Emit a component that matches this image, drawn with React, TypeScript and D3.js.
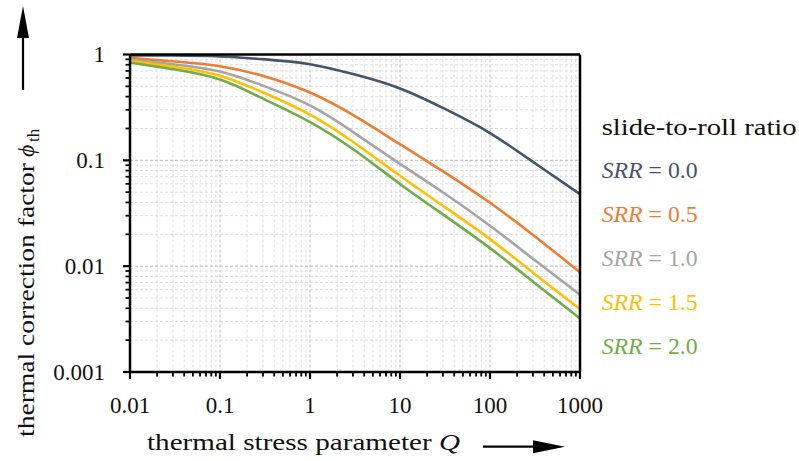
import React from "react";
import * as d3 from "d3";

// thermal stress parameter Q (x positions of read points)
const Q = [0.01, 0.0316, 0.1, 0.316, 1, 3.16, 10, 31.6, 100, 316, 1000];

// thermal correction factor phi_th
const srr00 = [0.982, 0.977, 0.957, 0.9, 0.81, 0.646, 0.478, 0.306, 0.181, 0.0938, 0.048];
const srr05 = [0.927, 0.859, 0.775, 0.62, 0.437, 0.262, 0.142, 0.0767, 0.0397, 0.0191, 0.00875];
const srr10 = [0.893, 0.805, 0.69, 0.5, 0.33, 0.18, 0.0925, 0.0483, 0.0241, 0.01135, 0.00538];
const srr15 = [0.869, 0.762, 0.63, 0.43, 0.27, 0.145, 0.0715, 0.0361, 0.018, 0.0084, 0.00394];
const srr20 = [0.838, 0.721, 0.58, 0.375, 0.23, 0.124, 0.0598, 0.0299, 0.0148, 0.0069, 0.0032];

const seriesLabels = ["0.0", "0.5", "1.0", "1.5", "2.0"];
const seriesColors = ["#44546A", "#ED7D31", "#A5A5A5", "#FFC000", "#70AD47"];
const seriesValues = [srr00, srr05, srr10, srr15, srr20];

const xTicks = [0.01, 0.1, 1, 10, 100, 1000];
const xTickLabels = ["0.01", "0.1", "1", "10", "100", "1000"];
const yTicks = [0.001, 0.01, 0.1, 1];
const yTickLabels = ["0.001", "0.01", "0.1", "1"];

const FONT = "'Liberation Serif', 'DejaVu Serif', serif";

export default function App() {
  const W = 799;
  const H = 461;
  const x = d3.scaleLog().domain([0.01, 1000]).range([130, 580]);
  const y = d3.scaleLog().domain([0.001, 1]).range([372, 54.5]);

  const minorX: number[] = [];
  for (let e = -2; e < 3; e++) for (let k = 1; k < 10; k++) minorX.push(k * Math.pow(10, e));
  minorX.push(1000);
  const minorY: number[] = [];
  for (let e = -3; e < 0; e++) for (let k = 1; k < 10; k++) minorY.push(k * Math.pow(10, e));
  minorY.push(1);

  const isMajor = (v: number) => Math.abs(Math.log10(v) - Math.round(Math.log10(v))) < 1e-6;

  const line = d3
    .line<number>()
    .x((_, i) => x(Q[i]))
    .y((d) => y(d))
    .curve(d3.curveNatural);

  const [x0, x1] = x.range();
  const [y0, y1] = y.range();

  return (
    <svg
      width={W}
      height={H}
      style={{ position: "absolute", left: 0, top: 0, background: "#fff" }}
      fontFamily={FONT}
    >
      <rect width={W} height={H} fill="#fff" />
      {/* grid */}
      <g>
        {minorX.map((v, i) => (
          <line
            key={"gx" + i}
            x1={x(v)}
            x2={x(v)}
            y1={y1}
            y2={y0}
            stroke={isMajor(v) ? "#bdbdbd" : "#dedede"}
            strokeWidth={1}
            strokeDasharray="3,2"
          />
        ))}
        {minorY.map((v, i) => (
          <line
            key={"gy" + i}
            x1={x0}
            x2={x1}
            y1={y(v)}
            y2={y(v)}
            stroke={isMajor(v) ? "#bdbdbd" : "#dedede"}
            strokeWidth={1}
            strokeDasharray="3,2"
          />
        ))}
      </g>
      {/* curves */}
      <g fill="none">
        {seriesValues.map((vals, i) => (
          <path key={"s" + i} d={line(vals) || ""} stroke={seriesColors[i]} strokeWidth={2.6} />
        ))}
      </g>
      {/* frame */}
      <g stroke="#000" fill="none">
        <line x1={x0} x2={x1} y1={y1} y2={y1} strokeWidth={2.5} />
        <line x1={x1} x2={x1} y1={y1} y2={y0} strokeWidth={2.5} />
        <line x1={x0} x2={x1} y1={y0} y2={y0} strokeWidth={2.5} />
        <line x1={x0} x2={x0} y1={y1} y2={y0} strokeWidth={2.5} />
        {minorX.map((v, i) => (
          <line
            key={"tx" + i}
            x1={x(v)}
            x2={x(v)}
            y1={y0}
            y2={y0 + (isMajor(v) ? 7 : 4.5)}
            strokeWidth={isMajor(v) ? 2.2 : 1.8}
          />
        ))}
        {minorY.map((v, i) => (
          <line
            key={"ty" + i}
            x1={x0}
            x2={x0 - (isMajor(v) ? 7 : 4.5)}
            y1={y(v)}
            y2={y(v)}
            strokeWidth={isMajor(v) ? 2.2 : 1.8}
          />
        ))}
      </g>
      {/* tick labels */}
      <g fontSize={23} fill="#111">
        {xTicks.map((v, i) => (
          <text key={"xl" + i} x={x(v)} y={413} textAnchor="middle">
            {xTickLabels[i]}
          </text>
        ))}
        {yTicks.map((v, i) => (
          <text key={"yl" + i} x={105} y={y(v)} dy="0.33em" textAnchor="end">
            {yTickLabels[i]}
          </text>
        ))}
      </g>
      {/* axis titles */}
      <text x={147} y={450} fontSize={23} fill="#111" textLength={313} lengthAdjust="spacingAndGlyphs">
        thermal stress parameter <tspan fontStyle="italic">Q</tspan>
      </text>
      <g transform="translate(34,437) rotate(-90)" fill="#111">
        <text x={0} y={0} fontSize={23} textLength={274} lengthAdjust="spacingAndGlyphs">
          thermal correction factor
        </text>
        <text x={280} y={0} fontSize={24} fontStyle="italic">
          ϕ
        </text>
        <text x={295} y={5} fontSize={17}>
          th
        </text>
      </g>
      {/* arrows */}
      <g fill="#000" stroke="#000">
        <line x1={23} x2={23} y1={90} y2={34} strokeWidth={2.2} />
        <polygon points="23,6 17,38 29,38" stroke="none" />
        <line x1={483} x2={537} y1={446.7} y2={446.7} strokeWidth={2.2} />
        <polygon points="565,446.7 533,440.2 533,453.2" stroke="none" />
      </g>
      {/* legend */}
      <g fontSize={23}>
        <text x={601.7} y={127} dy="0.33em" fill="#111" textLength={195} lengthAdjust="spacingAndGlyphs">
          slide-to-roll ratio
        </text>
        {seriesLabels.map((lab, i) => (
          <text
            key={"lg" + i}
            x={601.7}
            y={170 + i * 44}
            dy="0.33em"
            fill={seriesColors[i]}
            textLength={96}
            lengthAdjust="spacingAndGlyphs"
          >
            <tspan fontStyle="italic">SRR</tspan> = {lab}
          </text>
        ))}
      </g>
    </svg>
  );
}
